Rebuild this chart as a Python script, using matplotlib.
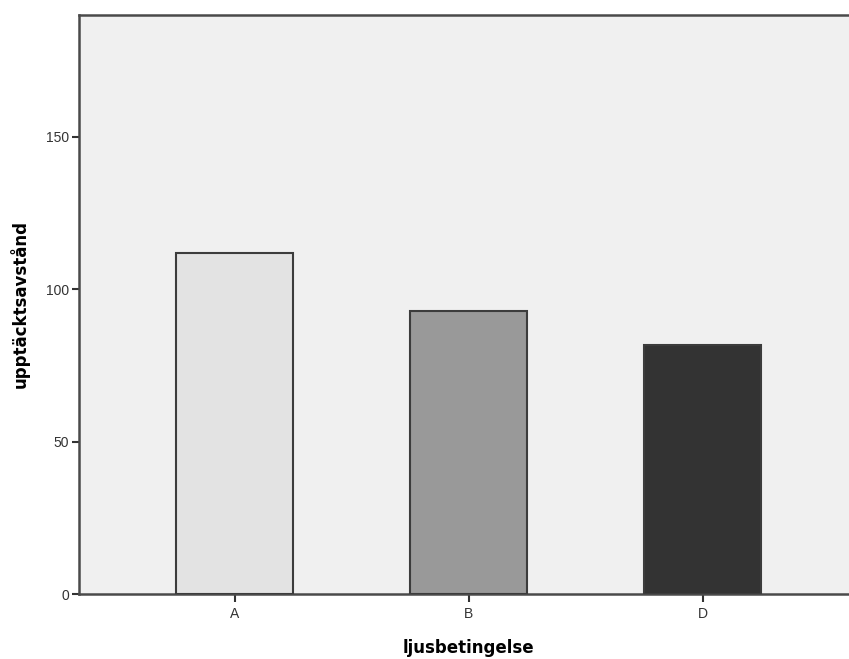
import matplotlib
matplotlib.use("Agg")
import matplotlib.pyplot as plt

categories = ["A", "B", "D"]
values = [111.7, 92.8, 81.6]
bar_colors = ["#E3E3E3", "#999999", "#333333"]
yticks = [0, 50, 100, 150]

plt.rcParams['font.family'] = ['Liberation Sans', 'DejaVu Sans']

fig = plt.figure(figsize=(8.49, 6.59), dpi=100)
ax = fig.add_axes([79/849, (659-594.3)/659, 1 - 79/849 + 0.01, (594.3-14.5)/659])
ax.set_facecolor("#F0F0F0")

x = list(range(len(categories)))
ax.bar(x, values, width=0.5, color=bar_colors, edgecolor="#3c3c3c", linewidth=1.5, zorder=3)

ax.set_xlim(-0.664, 2.66)
ax.set_ylim(0, 190)
ax.set_xticks(x)
ax.set_xticklabels(categories)
ax.set_yticks(yticks)

for s in ["left", "bottom", "top"]:
    ax.spines[s].set_color("#4a4a4a")
    ax.spines[s].set_linewidth(1.8)
ax.spines["right"].set_visible(False)

ax.tick_params(axis="both", colors="#333333", labelsize=10, width=1.5, length=6)
ax.tick_params(axis="y", length=5, pad=2)
ax.tick_params(axis="x", pad=3)

ax.set_xlabel("ljusbetingelse", fontsize=12, fontweight="bold", family=['DejaVu Sans'], labelpad=13)
ax.set_ylabel("upptäcktsavstånd", fontsize=12, fontweight="bold", family=['DejaVu Sans'], labelpad=12)

fig.savefig("out.png", dpi=100)
